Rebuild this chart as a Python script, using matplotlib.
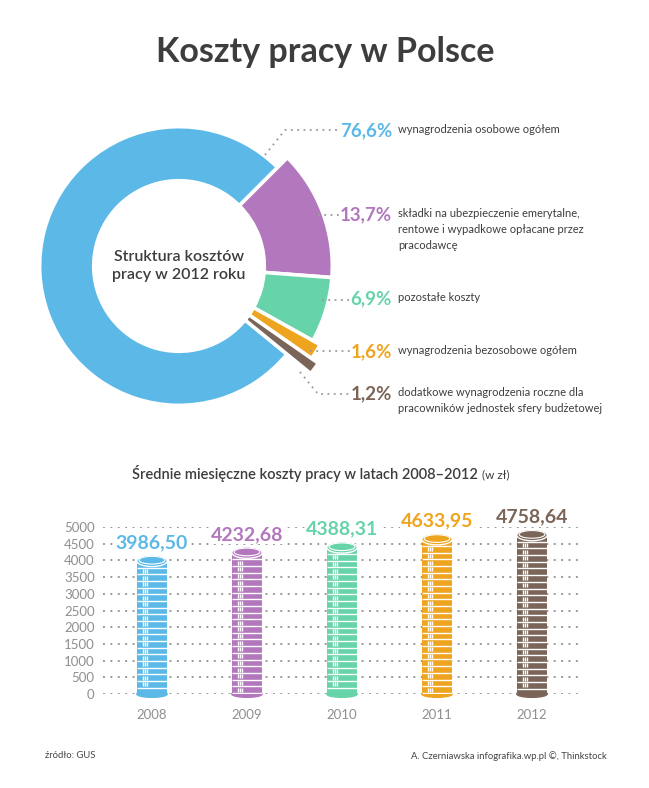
import matplotlib.pyplot as plt
from matplotlib.patches import Ellipse
from matplotlib.lines import Line2D

plt.rcParams["font.family"] = ["Lato", "DejaVu Sans"]

# donut data (clockwise from upper right)
shares = [13.7, 6.9, 1.6, 1.2, 76.6]
share_labels = ["13,7%", "6,9%", "1,6%", "1,2%", "76,6%"]
share_desc = [
    "składki na ubezpieczenie emerytalne,\nrentowe i wypadkowe opłacane przez\npracodawcę",
    "pozostałe koszty",
    "wynagrodzenia bezosobowe ogółem",
    "dodatkowe wynagrodzenia roczne dla\npracowników jednostek sfery budżetowej",
    "wynagrodzenia osobowe ogółem",
]
share_colors = ["#b277bd", "#66d3a9", "#efa41f", "#7b6558", "#5cb9e7"]

# bar data
years = ["2008", "2009", "2010", "2011", "2012"]
costs = [3986.50, 4232.68, 4388.31, 4633.95, 4758.64]
cost_labels = ["3986,50", "4232,68", "4388,31", "4633,95", "4758,64"]
bar_colors = ["#5cb9e7", "#b277bd", "#66d3a9", "#efa41f", "#7b6558"]

W, H = 649, 788
DARK = "#3d3d3d"
GRAY = "#8f8f8f"


def fx(x):
    return x / W


def fy(y):
    return 1 - y / H


fig = plt.figure(figsize=(W / 100, H / 100), dpi=100)
fig.patch.set_facecolor("white")

fig.text(fx(325), fy(52), "Koszty pracy w Polsce", ha="center", va="center",
         fontsize=24.5, fontweight="bold", color=DARK)

# ---- donut ----
cx, cy, R = 179, 266, 134
half = 1.3
axp = fig.add_axes([fx(cx - half * R), fy(cy + half * R), 2 * half * R / W, 2 * half * R / H])
axp.set_xlim(-half, half)
axp.set_ylim(-half, half)
axp.set_aspect("equal")
axp.axis("off")

wp = dict(edgecolor="white", linewidth=2.6)
inner = 82 / R
outer_blue, outer_rest = 1.0, 1.1
w_blue, _ = axp.pie(shares, colors=share_colors, startangle=45, counterclock=False,
                    radius=outer_blue, wedgeprops=dict(width=outer_blue - inner, **wp))
w_rest, _ = axp.pie(shares, colors=share_colors, startangle=45, counterclock=False,
                    radius=outer_rest, wedgeprops=dict(width=outer_rest - inner, **wp))
for i, w in enumerate(w_blue):
    w.set_visible(i == 4)
for i, w in enumerate(w_rest):
    w.set_visible(i != 4)
# the thin slices stick out a little further
for i in (2, 3):
    w_rest[i].set_radius(outer_rest + 0.06 * (i - 1))
    w_rest[i].set_width(outer_rest + 0.06 * (i - 1) - inner)

axp.text(0, 0, "Struktura kosztów\npracy w 2012 roku", ha="center", va="center",
         fontsize=11.5, color=DARK, linespacing=1.35, fontweight="semibold")

# labels on the right
label_y = [215, 299, 352, 394, 131]
leaders = [
    [(318, 215), (342, 215)],
    [(322, 300), (350, 300)],
    [(310, 351), (352, 351)],
    [(300, 372), (318, 394), (350, 394)],
    [(265, 155), (285, 130), (338, 130)],
]
for i in range(len(shares)):
    y = label_y[i]
    fig.text(fx(392), fy(y), share_labels[i], ha="right", va="center",
             fontsize=13.5, fontweight="bold", color=share_colors[i])
    fig.text(fx(398), fy(y - 7), share_desc[i], ha="left", va="top",
             fontsize=8, color=DARK, linespacing=1.55)
    pts = leaders[i]
    fig.add_artist(Line2D([fx(p[0]) for p in pts], [fy(p[1]) for p in pts],
                          transform=fig.transFigure, color="#9a9a9a",
                          linestyle=(0, (1, 2.5)), linewidth=1.3))

# ---- coin bars ----
fig.text(fx(305), fy(474), "Średnie miesięczne koszty pracy w latach 2008–2012",
         ha="center", va="center", fontsize=10.5, fontweight="semibold", color=DARK)
fig.text(fx(482), fy(475), "(w zł)", ha="left", va="center", fontsize=8.5, color=DARK)

x0, step = 152, 95
left_px, right_px, top_px, bot_px = 103, 582, 527, 694
axb = fig.add_axes([fx(left_px), fy(bot_px), (right_px - left_px) / W, (bot_px - top_px) / H])
axb.set_xlim((left_px - x0) / step, (right_px - x0) / step)
axb.set_ylim(0, 5000)
for s in axb.spines.values():
    s.set_visible(False)
axb.set_yticks(range(0, 5001, 500))
axb.set_xticks(range(len(years)))
axb.set_xticklabels(years)
axb.tick_params(length=0, colors=GRAY, labelsize=9.5)
axb.tick_params(axis="y", pad=6)
axb.tick_params(axis="x", pad=11)
axb.grid(axis="y", color="#9a9a9a", linestyle=(0, (1, 2.8)), linewidth=1.4)
axb.set_axisbelow(True)

bw = 0.32
coin_h = 200
axb.bar(range(len(years)), costs, width=bw, color=bar_colors, zorder=3)
for i, v in enumerate(costs):
    c = bar_colors[i]
    axb.add_patch(Ellipse((i, 0), bw, 200, color=c, zorder=3, clip_on=False))
    n = int(v // coin_h)
    ys = []
    for k in range(1, n + 1):
        yk = v - k * coin_h
        if yk <= 0:
            break
        axb.plot([i - bw / 2, i + bw / 2], [yk, yk], color="white", lw=1.0,
                 zorder=4, solid_capstyle="butt")
    ys = [v - (k + 0.5) * coin_h for k in range(1, n)]
    for dx in (-0.1, -0.075, -0.05):
        axb.plot([i + dx] * len(ys), ys, linestyle="none", marker="|",
                 markersize=2.2, markeredgewidth=1.0, color="white", zorder=4)
    axb.add_patch(Ellipse((i, v), bw, 340, facecolor=c, edgecolor="white",
                          lw=1.0, zorder=5, clip_on=False))
    axb.add_patch(Ellipse((i, v + 20), bw * 0.85, 230, facecolor=c, edgecolor="white",
                          lw=0.8, zorder=5, clip_on=False))
    axb.annotate(cost_labels[i], (i, v), xytext=(0, 7), textcoords="offset points",
                 ha="center", va="bottom", fontsize=14, fontweight="bold", color=c,
                 annotation_clip=False, zorder=6,
                 bbox=dict(facecolor="white", edgecolor="none", pad=0.5))

fig.text(fx(45), fy(756), "źródło: GUS", ha="left", va="center", fontsize=6.8, color="#444444")
fig.text(fx(607), fy(756), "A. Czerniawska infografika.wp.pl ©, Thinkstock", ha="right",
         va="center", fontsize=6.8, color="#444444")

fig.savefig("out.png", dpi=100, facecolor="white")
